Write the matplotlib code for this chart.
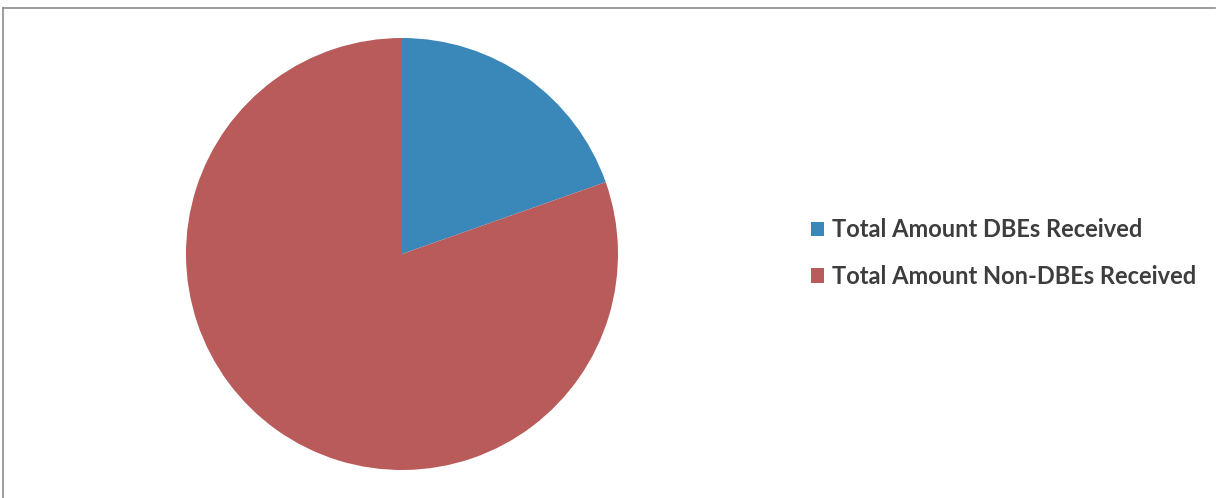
import matplotlib.pyplot as plt
from matplotlib.lines import Line2D

labels = ['Total Amount DBEs Received', 'Total Amount Non-DBEs Received']
shares = [19.6, 80.4]
colors = ['#3A87BA', '#B95B5B']

W, H = 1220, 498
fig = plt.figure(figsize=(W / 100, H / 100), dpi=100)

# pie centred at about (402, 254) px, radius ~216 px
cx, cy, r = 402, 254, 216
ax = fig.add_axes([(cx - r) / W, (H - cy - r) / H, 2 * r / W, 2 * r / H])
wedges, _ = ax.pie(shares, colors=colors, startangle=90, counterclock=False,
                   radius=1, wedgeprops=dict(linewidth=0))
ax.set_xlim(-1, 1)
ax.set_ylim(-1, 1)
ax.set_aspect('equal')
ax.axis('off')

# chart frame (only top and left edges show in the scan)
fig.add_artist(Line2D([3 / W, 3 / W], [0, 1 - 8 / H], transform=fig.transFigure,
                      color='#8c8c8c', linewidth=1.2))
fig.add_artist(Line2D([3 / W, 1215 / W], [1 - 8 / H, 1 - 8 / H], transform=fig.transFigure,
                      color='#8c8c8c', linewidth=1.2))

leg = fig.legend(wedges, labels, loc='center left',
                 bbox_to_anchor=(811 / W, 1 - 253 / H),
                 frameon=False, prop={'family': 'Lato', 'size': 17, 'weight': 'bold'},
                 handlelength=0.55, handleheight=0.55, handletextpad=0.35,
                 labelspacing=1.0, borderpad=0, borderaxespad=0)
for t in leg.get_texts():
    t.set_color('#3d3d3d')

fig.savefig('out.png', dpi=100, facecolor='white')
